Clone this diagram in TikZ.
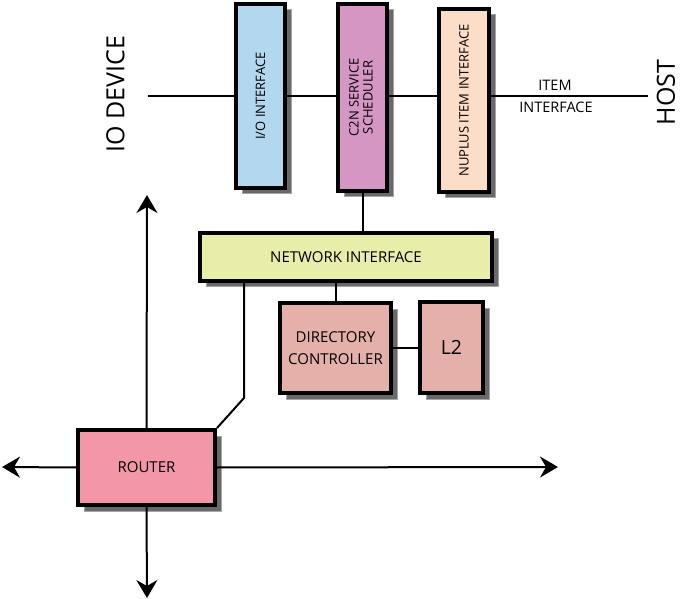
\documentclass[tikz,border=0pt]{standalone}
\usepackage{fontspec}
\setmainfont{Open Sans}
\usetikzlibrary{arrows.meta,shadows}

\definecolor{iocol}{RGB}{180,215,240}
\definecolor{schedcol}{RGB}{214,150,196}
\definecolor{nupcol}{RGB}{252,222,200}
\definecolor{netcol}{RGB}{232,237,170}
\definecolor{dircol}{RGB}{230,176,170}
\definecolor{routcol}{RGB}{242,150,168}
\definecolor{shadcol}{RGB}{105,105,108}

\begin{document}
\begin{tikzpicture}[
	x=1pt, y=-1pt,
	block/.style={ draw, line width=4pt, inner sep=0pt, text=black,
		general shadow={ fill=shadcol, draw=black!35, line width=1pt, shadow xshift=6pt, shadow yshift=-6pt } },
	link/.style={ line width=2pt },
	arr/.style={ line width=2pt, -{Stealth[length=18pt,width=21pt,inset=6pt]} },
	side/.style={ rotate=90, font=\fontsize{25}{27}\selectfont }
]
\useasboundingbox (0,0) rectangle (681,599);

\node at (260.5,96) (io) [block,fill=iocol,minimum width=49pt,minimum height=184pt]
  {\rotatebox{90}{\fontsize{13}{15}\selectfont I/O INTERFACE}};
\node at (362.5,97.5) (c2n) [block,fill=schedcol,minimum width=49pt,minimum height=187pt]
  {\rotatebox{90}{\fontsize{13}{15}\selectfont\begin{tabular}{@{}c@{}}C2N SERVICE\\[-1pt]SCHEDULER\end{tabular}}};
\node at (464,100.5) (nup) [block,fill=nupcol,minimum width=50pt,minimum height=183pt]
  {\rotatebox{90}{\fontsize{13}{15}\selectfont NUPLUS ITEM INTERFACE}};
\node at (346,257) (net) [block,fill=netcol,minimum width=292pt,minimum height=48pt]
  {\fontsize{15}{17}\selectfont NETWORK INTERFACE};
\node at (335.5,348) (dir) [block,fill=dircol,minimum width=111pt,minimum height=90pt,
  align=center,font=\fontsize{15}{22}\selectfont]
  {DIRECTORY\\CONTROLLER};
\node at (451.5,347.5) (l2) [block,fill=dircol,minimum width=63pt,minimum height=91pt]
  {\fontsize{19.5}{21}\selectfont L2};
\node at (146.5,467.5) (router) [block,fill=routcol,minimum width=137pt,minimum height=75pt]
  {\fontsize{15}{17}\selectfont ROUTER};

\node at (115.5,94) (iodev) [side] {IO DEVICE};
\node at (666,92.5) (host) [side] {HOST};
\node at (555,85) (item) [font=\fontsize{14.5}{16}\selectfont] {ITEM};
\node at (556,107) (itemif) [font=\fontsize{14.5}{16}\selectfont] {INTERFACE};

\coordinate (left) at (148,96);
\coordinate (right) at (648,96);
\coordinate (bend) at (244,398);
\coordinate (up) at (147,195);
\coordinate (down) at (147,598);
\coordinate (west) at (2,467);
\coordinate (east) at (558,467);

\draw[link] (left) -- (left -| io.west);
\draw[link] (left -| io.east) -- (left -| c2n.west);
\draw[link] (left -| c2n.east) -- (left -| nup.west);
\draw[link] (left -| nup.east) -- (right);
\draw[link] (c2n.south) -- (c2n.south |- net.north);
\draw[link] (dir.north) -- (dir.north |- net.south);
\draw[link] (dir.east) -- (dir.east -| l2.west);
\draw[link] (bend |- net.south) -- (bend) -- (router.north east);

\draw[arr] (router.north) -- (up);
\draw[arr] (router.south) -- (down);
\draw[arr] (router.west) -- (west);
\draw[arr] (router.east) -- (east);

\end{tikzpicture}
\end{document}
